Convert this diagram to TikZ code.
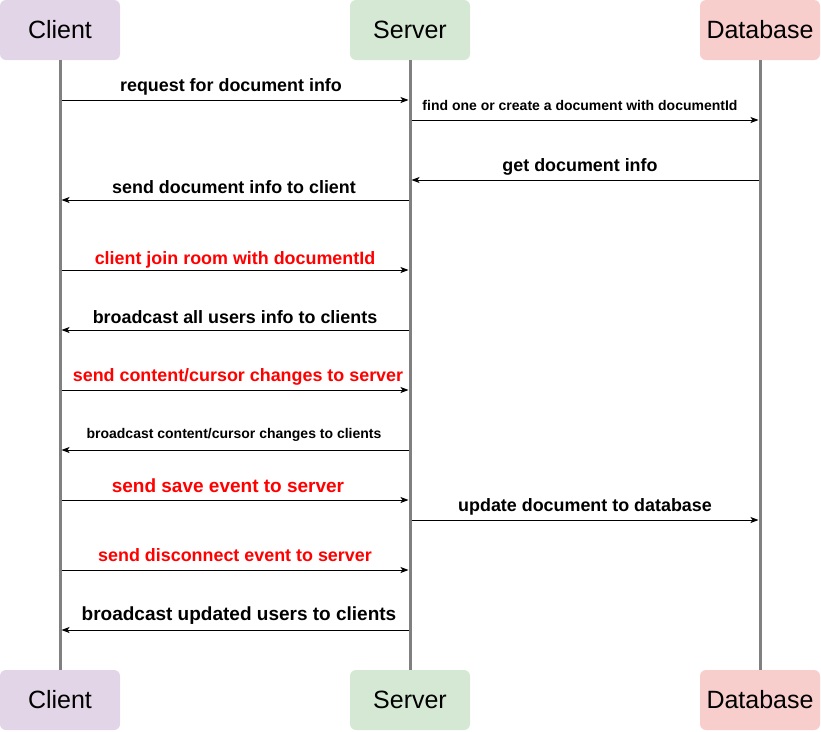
\documentclass[tikz,border=0pt]{standalone}
\usepackage{fontspec}
\setmainfont{Liberation Sans}
\usetikzlibrary{arrows.meta}
\definecolor{cfill}{HTML}{E1D5E7}
\definecolor{sfill}{HTML}{D5E8D4}
\definecolor{dfill}{HTML}{F8CECC}
\definecolor{lifegray}{HTML}{808080}
\definecolor{msgred}{HTML}{FF0000}
\tikzset{
  actor/.style={minimum width=120pt, minimum height=60pt, rounded corners=6pt, inner sep=0pt, font=\fontsize{25}{29}\selectfont},
  lifeline/.style={draw=lifegray, line width=3pt},
  msg/.style={draw=black, line width=1pt, -{Stealth[length=8pt,width=6pt,inset=2pt]}},
  lbl/.style={font=\fontsize{17.9}{21}\selectfont\bfseries, inner sep=0pt},
  biglbl/.style={font=\fontsize{19}{22}\selectfont\bfseries, inner sep=0pt},
  slbl/.style={font=\fontsize{14}{17}\selectfont\bfseries, inner sep=0pt},
  redlbl/.style={lbl, text=msgred}
}
\begin{document}
\begin{tikzpicture}[x=1pt,y=-1pt]
\useasboundingbox (0,0) rectangle (821,731);
% actors
\node[actor, fill=cfill] (ct) at (60,30) {Client};
\node[actor, fill=sfill] (st) at (410,30) {Server};
\node[actor, fill=dfill] (dt) at (760,30) {Database};
\node[actor, fill=cfill] (cb) at (60,700) {Client};
\node[actor, fill=sfill] (sb) at (410,700) {Server};
\node[actor, fill=dfill] (db) at (760,700) {Database};
% lifelines
\draw[lifeline] (ct.south) -- (cb.north);
\draw[lifeline] (st.south) -- (sb.north);
\draw[lifeline] (dt.south) -- (db.north);
% anchor points on lifelines
\foreach \y in {100,200,270,330,390,450,500,570,630} {
  \coordinate (c\y) at (61.5,\y);
  \coordinate (s\y) at (408.5,\y);
}
\foreach \y in {120,180,520} {
  \coordinate (sr\y) at (411.5,\y);
  \coordinate (d\y) at (758.5,\y);
}
% messages
\draw[msg] (c100) -- (s100);
\node[lbl] (l1) at (231,87) {request for document info};
\draw[msg] (sr120) -- (d120);
\node[slbl] (l2) at (580,105) {find one or create a document with documentId};
\draw[msg] (d180) -- (sr180);
\node[lbl] (l3) at (580,167) {get document info};
\draw[msg] (s200) -- (c200);
\node[lbl] (l4) at (234,187) {send document info to client};
\draw[msg] (c270) -- (s270);
\node[redlbl] (l5) at (235,260) {client join room with documentId};
\draw[msg] (s330) -- (c330);
\node[lbl] (l6) at (235,317) {broadcast all users info to clients};
\draw[msg] (c390) -- (s390);
\node[redlbl] (l7) at (238,377) {send content/cursor changes to server};
\draw[msg] (s450) -- (c450);
\node[slbl] (l8) at (234,435) {broadcast content/cursor changes to clients};
\draw[msg] (c500) -- (s500);
\node[biglbl, text=msgred] (l9) at (228,486) {send save event to server};
\draw[msg] (sr520) -- (d520);
\node[lbl] (l10) at (585,507) {update document to database};
\draw[msg] (c570) -- (s570);
\node[redlbl] (l11) at (235,555) {send disconnect event to server};
\draw[msg] (s630) -- (c630);
\node[biglbl] (l12) at (239,616) {broadcast updated users to clients};
\end{tikzpicture}
\end{document}
